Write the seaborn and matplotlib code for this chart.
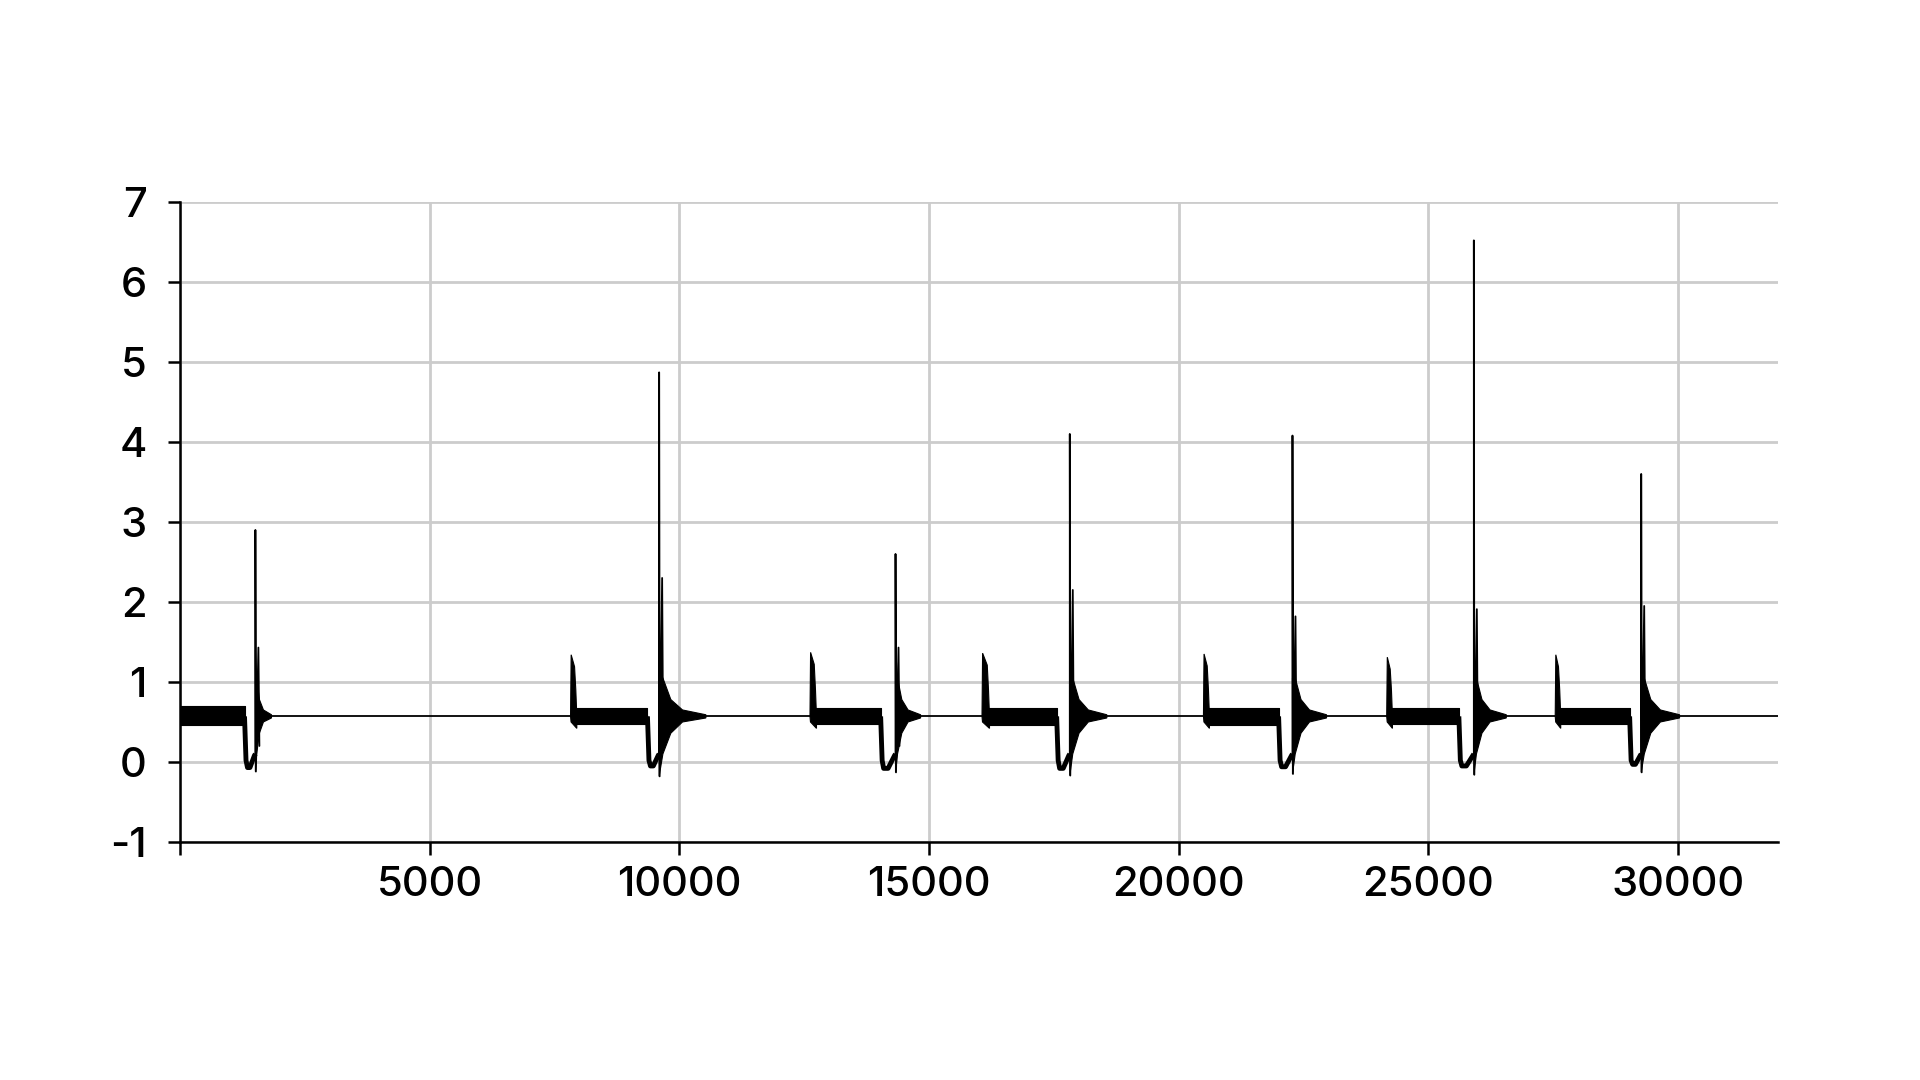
import numpy as np
import pandas as pd
import matplotlib
matplotlib.use("Agg")
import matplotlib.pyplot as plt
import seaborn as sns

sns.set_theme(style="whitegrid")
plt.rcParams["font.family"] = ["Inter", "DejaVu Sans"]
plt.rcParams["axes.unicode_minus"] = False

# values (sample index on x)
base_level = 0.57
x_end = 32000

pulse_start = [7820, 12615, 16060, 20495, 24165, 27540]
pulse_end = [7925, 12725, 16190, 20595, 24260, 27630]
pulse_peak = [1.34, 1.37, 1.36, 1.35, 1.31, 1.34]

band_start = [0, 7925, 12725, 16190, 20595, 24260, 27630]
band_low = [0.46, 0.47, 0.47, 0.46, 0.46, 0.47, 0.47]
band_high = [0.70, 0.67, 0.67, 0.67, 0.67, 0.68, 0.68]

dip_start = [1290, 9360, 14030, 17555, 22000, 25610, 29030]
dip_low = [-0.07, -0.05, -0.08, -0.08, -0.06, -0.05, -0.03]
spike_x = [1508, 9594, 14328, 17818, 22278, 25910, 29262]
spike_peak = [2.90, 4.87, 2.60, 4.10, 4.08, 6.52, 3.60]
spike_low = [-0.12, -0.18, -0.13, -0.17, -0.15, -0.16, -0.13]
second_peak = [1.43, 2.30, 1.43, 2.15, 1.82, 1.91, 1.95]
ring_top = [1.40, 1.10, 1.43, 1.30, 1.05, 1.25, 1.06]
ring_end = [1830, 10530, 14830, 18560, 22960, 26560, 30030]

# ringing envelope, as fractions of the ringing length and levels
ring_frac = [0.0, 0.08, 0.25, 0.5, 1.0]
ring_upper = [None, 1.05, 0.78, 0.65, 0.59]
ring_lower = [None, 0.10, 0.36, 0.50, 0.55]

# thin trace pieces: flat stretches, dips and spikes
rows = []
seg = 0
for i in range(len(spike_x)):
    if i > 0:
        for xx, yy in [(ring_end[i - 1], base_level), (pulse_start[i - 1], base_level)]:
            rows.append((xx, yy, seg))
        seg += 1
    d, s = dip_start[i], spike_x[i]
    for xx, yy in [(d, base_level), (d + 30, 0.02), (d + 60, dip_low[i]),
                   ((d + s) / 2, dip_low[i]), (s - 20, 0.08), (s, 0.1),
                   (s, spike_peak[i]), (s + 10, spike_low[i]),
                   (s + 60, second_peak[i]), (s + 80, 0.2)]:
        rows.append((xx, yy, seg))
    seg += 1
for xx, yy in [(ring_end[-1], base_level), (x_end, base_level)]:
    rows.append((xx, yy, seg))
trace = pd.DataFrame(rows, columns=["x", "y", "seg"])

fig, ax = plt.subplots(figsize=(19.2, 10.8), dpi=100)
fig.subplots_adjust(left=0.0938, right=0.926, top=0.813, bottom=0.2204)

# noisy stretches
for i in range(len(band_start)):
    ax.fill_between([band_start[i], dip_start[i]], band_low[i], band_high[i],
                    color="black", lw=0.8)

# short pulses
for i in range(len(pulse_start)):
    a, b = pulse_start[i], pulse_end[i]
    ax.fill([a, a + 12, b - 25, b, b + 20, b + 20, a + 10, a],
            [base_level, pulse_peak[i], pulse_peak[i] - 0.15, 0.9, base_level,
             0.42, 0.5, base_level],
            color="black", lw=0.8)

# ringing after each spike
for i in range(len(spike_x)):
    s, e = spike_x[i], ring_end[i]
    L = e - s
    up = [ring_top[i]] + ring_upper[1:]
    lo = [spike_low[i]] + ring_lower[1:]
    xs = [s + f * L for f in ring_frac]
    ax.fill(xs + xs[::-1], up + lo[::-1], color="black", lw=0.8)

sns.lineplot(data=trace, x="x", y="y", units="seg", estimator=None, sort=False,
             color="black", lw=1.3, ax=ax)
# dips are drawn a bit heavier
for i in range(len(spike_x)):
    d, s = dip_start[i], spike_x[i]
    ax.plot([d, d + 30, d + 60, (d + s) / 2, s - 20, s],
            [base_level, 0.02, dip_low[i], dip_low[i], 0.08, 0.1],
            color="black", lw=3.5, solid_capstyle="butt")

ax.set_xlim(0, x_end)
ax.set_ylim(-1, 7)
ax.set_xticks([0, 5000, 10000, 15000, 20000, 25000, 30000])
ax.set_xticklabels(["", "5000", "10000", "15000", "20000", "25000", "30000"])
ax.set_yticks(range(-1, 8))
ax.set_xlabel("")
ax.set_ylabel("")

ax.grid(True, color="#cccccc", lw=2)
ax.set_axisbelow(True)
for side in ["top", "right"]:
    ax.spines[side].set_visible(False)
for side in ["left", "bottom"]:
    ax.spines[side].set_color("black")
    ax.spines[side].set_linewidth(1.8)
ax.tick_params(axis="y", which="major", length=9, width=1.8, color="black",
               labelsize=30, labelcolor="black", pad=15, left=True)
ax.tick_params(axis="x", which="major", length=9, width=1.8, color="black",
               labelsize=30, labelcolor="black", pad=8, bottom=True)
for lab in ax.get_xticklabels() + ax.get_yticklabels():
    lab.set_fontweight("medium")

fig.savefig("out.png", dpi=100, facecolor="white")
